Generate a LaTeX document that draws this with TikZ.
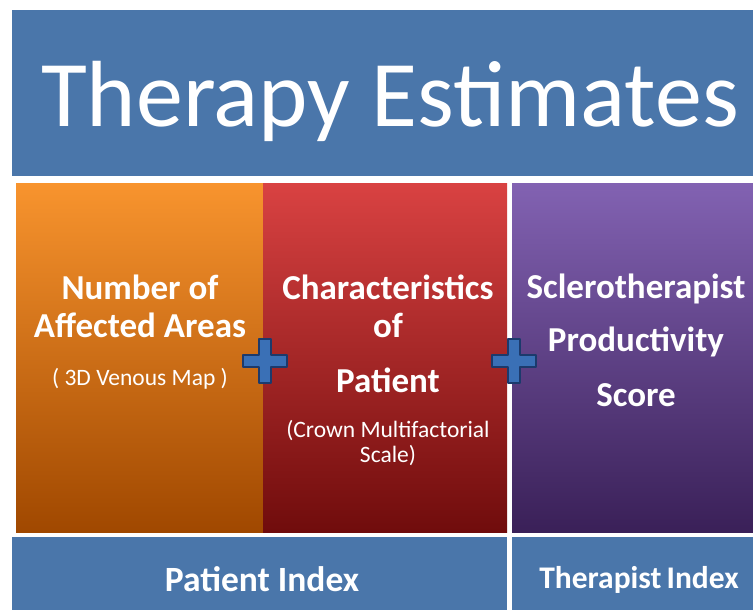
\documentclass[tikz,border=0pt]{standalone}
\usepackage{fontspec}
\setmainfont{Carlito}
\definecolor{panelblue}{RGB}{74,118,170}
\definecolor{orangetop}{RGB}{248,148,46}
\definecolor{orangebot}{RGB}{160,72,0}
\definecolor{redtop}{RGB}{217,66,66}
\definecolor{redbot}{RGB}{112,12,12}
\definecolor{purpletop}{RGB}{130,98,178}
\definecolor{purplebot}{RGB}{58,32,88}
\definecolor{plusblue}{RGB}{58,112,182}
\definecolor{plusdark}{RGB}{28,58,108}
\tikzset{
  head/.style={text=white,anchor=base,font=\fontsize{94}{100}\selectfont},
  big/.style={text=white,anchor=base,font=\bfseries\fontsize{35}{42}\selectfont},
  small/.style={text=white,anchor=base,font=\fontsize{23.5}{28}\selectfont},
  idxtext/.style={text=white,anchor=base,font=\bfseries\fontsize{35.5}{42}\selectfont},
  plussign/.style={fill=plusblue,draw=plusdark,line width=1.2pt,line join=round}
}

\begin{document}
\begin{tikzpicture}[x=1pt,y=-1pt]
    % page
    \fill[white] (0,0) rectangle (753,610);
    \useasboundingbox (0,0) rectangle (753,610);
    % title panel
    \fill[panelblue] (12,10) rectangle (753,176);
    \node[head] (title) at (390,126) {Therapy Estimates};
    % three columns
    \foreach \xa/\xb/\c in {16/263/orange,263/507/red,512/753/purple} {
      \shade[top color=\c top,bottom color=\c bot] (\xa,183) rectangle (\xb,532);
    }
    % column texts
    \foreach \t/\y [count=\i] in {Number of/299,Affected Areas/337} {
      \node[big] (areas\i) at (140,\y) {\t};
    }
    \node[small] (map) at (140,385) {( 3D Venous Map )};
    \foreach \t/\y [count=\i] in {Characteristics/299,of/337,Patient/392} {
      \node[big] (char\i) at (388,\y) {\t};
    }
    \node[small] (crown1) at (388,437) {(Crown Multifactorial};
    \node[small] (crown2) at (388,462) {Scale)};
    \foreach \t/\y [count=\i] in {Sclerotherapist/298,Productivity/351,Score/406} {
      \node[big] (score\i) at (636,\y) {\t};
    }
    % plus signs
    \foreach \x in {265,514} {
      \draw[plussign,shift={(\x,361)}] (-6,-22) -- (6,-22) -- (6,-6) -- (22,-6)
        -- (22,6) -- (6,6) -- (6,22) -- (-6,22) -- (-6,6) -- (-22,6)
        -- (-22,-6) -- (-6,-6) -- cycle;
    }
    % index bars
    \fill[panelblue] (12,537) rectangle (507,610);
    \fill[panelblue] (512,537) rectangle (753,610);
    \node[idxtext] (pindex) at (262,591) {Patient Index};
    \node[idxtext,font=\bfseries\fontsize{31.5}{38}\selectfont] (tindex) at (639,588) {Therapist\kern-2pt\ Index};
\end{tikzpicture}
\end{document}
